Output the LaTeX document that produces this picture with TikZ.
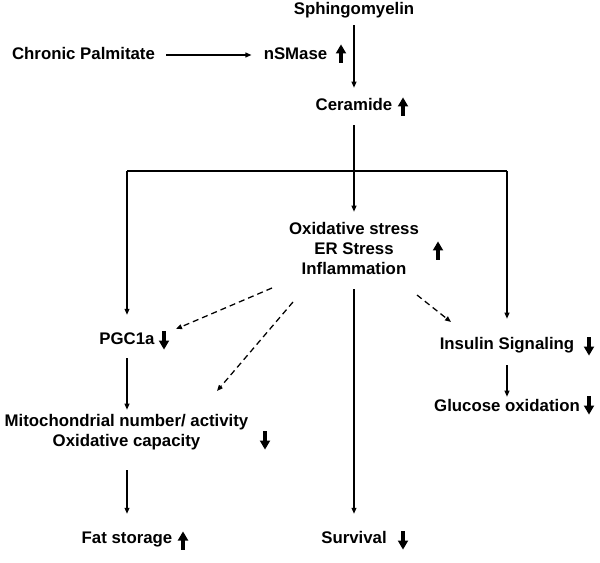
\documentclass[tikz,border=0pt]{standalone}
\usepackage{fontspec}
\setmainfont{Liberation Sans}
\usetikzlibrary{arrows.meta}
\tikzset{
  txt/.style={inner sep=0pt, text height=9pt, text depth=2.6pt,
    font=\fontsize{12.6pt}{15pt}\selectfont\bfseries},
  arr/.style={draw=black, line width=0.95pt, -{Triangle[length=4.5pt,width=3.6pt]}},
  dasharr/.style={arr, dash pattern=on 4.5pt off 3pt},
  plain/.style={draw=black, line width=0.95pt},
  uparr/.pic={\fill (-2,9) rectangle (2,-1); \fill (-5.3,-0.5) -- (0,-9.5) -- (5.3,-0.5) -- cycle;},
  dnarr/.pic={\fill (-2,-9) rectangle (2,1); \fill (-5.3,0.5) -- (0,9.5) -- (5.3,0.5) -- cycle;}
}
\begin{document}
\begin{tikzpicture}[x=0.75pt,y=-0.75pt]
\useasboundingbox (0,0) rectangle (600,563);
\fill[white] (0,0) rectangle (600,563);

% nodes
\node[txt] (sph) at (354,10) {Sphingomyelin};
\node[txt] (cp) at (83.5,55) {Chronic Palmitate};
\node[txt] (nsm) at (295.5,55) {nSMase};
\node[txt] (cer) at (354,106) {Ceramide};
\node[txt] (ox1) at (354,230) {Oxidative stress};
\node[txt] (ox2) at (354,250) {ER Stress};
\node[txt] (ox3) at (354,270) {Inflammation};
\node[txt] (pgc) at (127,340) {PGC1a};
\node[txt] (ins) at (507,345) {Insulin Signaling};
\node[txt] (glu) at (507,407) {Glucose oxidation};
\node[txt] (mito1) at (126.5,422) {Mitochondrial number/ activity};
\node[txt] (mito2) at (126.5,442) {Oxidative capacity};
\node[txt] (fat) at (127,539) {Fat storage};
\node[txt] (surv) at (354,539) {Survival};

% bold up/down indicators
\pic at (341,54) {uparr};
\pic at (403,107) {uparr};
\pic at (438,251) {uparr};
\pic at (164,340) {dnarr};
\pic at (589,346) {dnarr};
\pic at (589,405) {dnarr};
\pic at (265,440) {dnarr};
\pic at (183,541) {uparr};
\pic at (403,540) {dnarr};

% connectors
\draw[arr, shorten <=8.25pt, shorten >=9pt] (cp) -- (nsm);
\draw[arr, shorten <=5.4pt, shorten >=7.7pt] (sph.south) -- (cer.north);
\draw[arr, shorten <=8.4pt, shorten >=7.7pt] (cer.south) -- (ox1.north);
\coordinate (hl) at (354,171);
\draw[plain] (pgc.north |- hl) -- (ins.north |- hl);
\draw[arr, shorten >=12.9pt] (pgc.north |- hl) -- (pgc.north);
\draw[arr, shorten >=13.7pt] (ins.north |- hl) -- (ins.north);
\draw[arr, shorten <=7.7pt, shorten >=3.2pt] (pgc.south) -- (pgc.south |- mito1.north);
\draw[arr, shorten <=15.2pt, shorten >=12.9pt] (mito2.south -| fat) -- (fat.north);
\draw[arr, shorten <=8.4pt, shorten >=12.9pt] (ox3.south) -- (surv.north);
\draw[arr, shorten <=9.2pt, shorten >=1.7pt] (ins.south) -- (glu.north);

% dashed influences
\coordinate (d1s) at (272,288);
\coordinate (d1e) at (176,329);
\coordinate (d2s) at (293,302);
\coordinate (d2e) at (217,391);
\coordinate (d3s) at (417,295);
\coordinate (d3e) at (451,322);
\draw[dasharr] (d1s) -- (d1e);
\draw[dasharr] (d2s) -- (d2e);
\draw[dasharr] (d3s) -- (d3e);
\end{tikzpicture}
\end{document}
